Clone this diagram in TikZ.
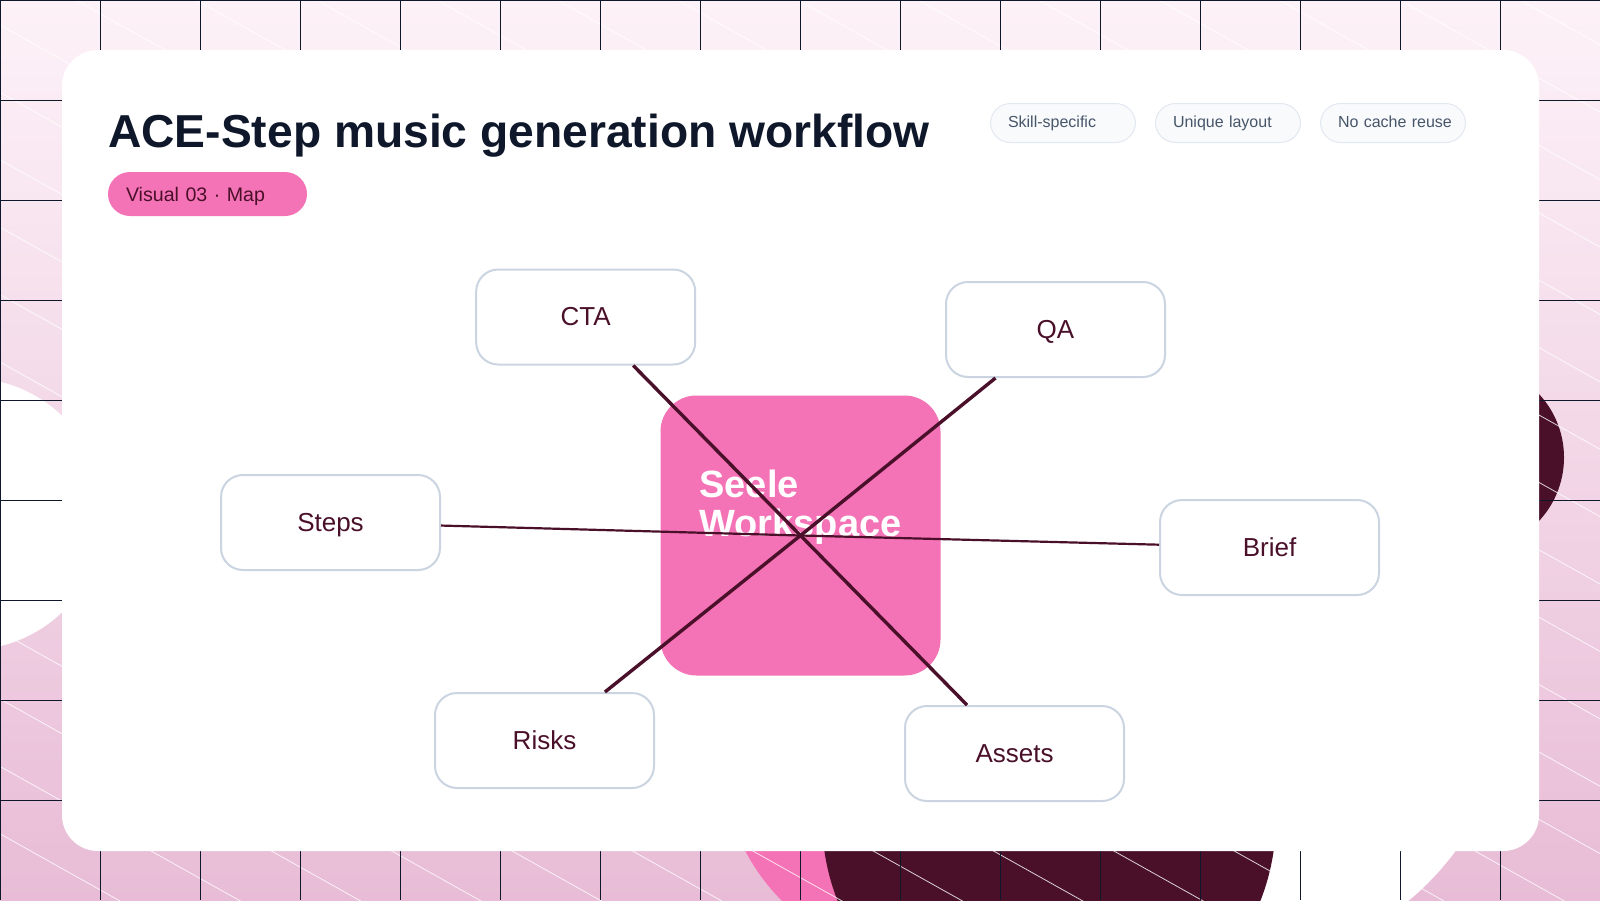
\documentclass[tikz,border=0pt]{standalone}
\usepackage{fontspec}
\setmainfont{Liberation Sans}
\definecolor{ink}{HTML}{0F172A}
\definecolor{wine}{HTML}{4A102A}
\definecolor{rose}{HTML}{F472B6}
\definecolor{edge}{HTML}{CBD5E1}
\definecolor{tagline}{HTML}{E2E8F0}
\definecolor{tagfill}{HTML}{F8FAFC}
\definecolor{tagtext}{HTML}{475569}
\definecolor{paletop}{HTML}{FDF2F8}
\definecolor{palebot}{HTML}{E8BCD6}

\begin{document}
\begin{tikzpicture}[x=1pt,y=-1pt]

\tikzstyle{every node}=[font=\fontsize{26}{30}\selectfont, text=wine]
\tikzstyle{satellite}=[draw=edge, line width=2pt, fill=white, rounded corners=22pt,
	minimum width=219pt, minimum height=95pt, inner sep=0pt,
	text height=20.5pt, text depth=3.3pt]
\tikzstyle{tag}=[draw=tagline, line width=1pt, fill=tagfill, rounded corners=20pt,
	minimum width=145pt, minimum height=39pt, inner ysep=0pt, inner xsep=17.5pt,
	text width=110pt, align=left, text=tagtext, font=\fontsize{16}{20}\selectfont,
	text height=13pt, text depth=3.6pt]
\tikzstyle{link}=[draw=wine, line width=3.4pt]
\tikzstyle{flatlink}=[draw=wine, line width=2.2pt]

\useasboundingbox (0,0) rectangle (1600,900);
\clip (0,0) rectangle (1600,900);

\shade[top color=paletop, bottom color=palebot] (0,0) rectangle (1600,900);
\fill[rose] (923,759) circle [radius=200];
\fill[white] (1230,685) circle [radius=280];
\fill[white] (-32,514) circle [radius=136];
\fill[wine] (1049,818) circle [radius=227];
\fill[wine] (1471,457.5) circle [radius=93];

\foreach \k in {-14,...,13}
	\draw[white, opacity=.8, line width=.8pt] (0,25+67.4*\k) -- (1600,921+67.4*\k);
\draw[ink, line width=1pt, shift={(0.5,0.5)}, step=100pt] (-1,-1) grid (1599,899);

\fill[white, rounded corners=36pt] (62,50) rectangle (1539,851);

\node (title) at (108,147) [anchor=base west, inner sep=0pt, text=ink,
	font=\bfseries\fontsize{46.2}{50}\selectfont] {ACE-Step music generation workflow};
\node (badge) at (207.5,194) [fill=rose, rounded corners=22pt, minimum width=199pt,
	minimum height=44pt, inner ysep=0pt, inner xsep=18pt, text width=163pt, align=left,
	font=\fontsize{19.6}{24}\selectfont, text height=16.5pt, text depth=2.5pt] {Visual 03 · Map};

\node (skill) at (1063,123) [tag] {Skill-specific};
\node (unique) at (1228,123) [tag] {Unique layout};
\node (cache) at (1393,123) [tag] {\mbox{No cache reuse}};

\node (hub) at (800.5,535.5) [fill=rose, rounded corners=36pt, minimum width=280pt,
	minimum height=280pt, inner ysep=0pt, inner xsep=39pt, text width=202pt, align=left,
	text=white, font=\bfseries\fontsize{38}{38.5}\selectfont,
	text height=26pt, text depth=101.6pt] {Seele\\Workspace};

\node (cta) at (585.7,317) [satellite] {CTA};
\node (qa) at (1055.5,329.5) [satellite] {QA};
\node (steps) at (330.5,522.5) [satellite] {Steps};
\node (brief) at (1269.5,547.5) [satellite] {Brief};
\node (risks) at (544.5,740.5) [satellite] {Risks};
\node (assets) at (1014.5,753.5) [satellite] {Assets};

\draw[link] (hub.center) -- (cta);
\draw[link] (hub.center) -- (qa);
\draw[flatlink] (hub.center) -- (steps);
\draw[flatlink] (hub.center) -- (brief);
\draw[link] (hub.center) -- (risks);
\draw[link] (hub.center) -- (assets);
\end{tikzpicture}
\end{document}
